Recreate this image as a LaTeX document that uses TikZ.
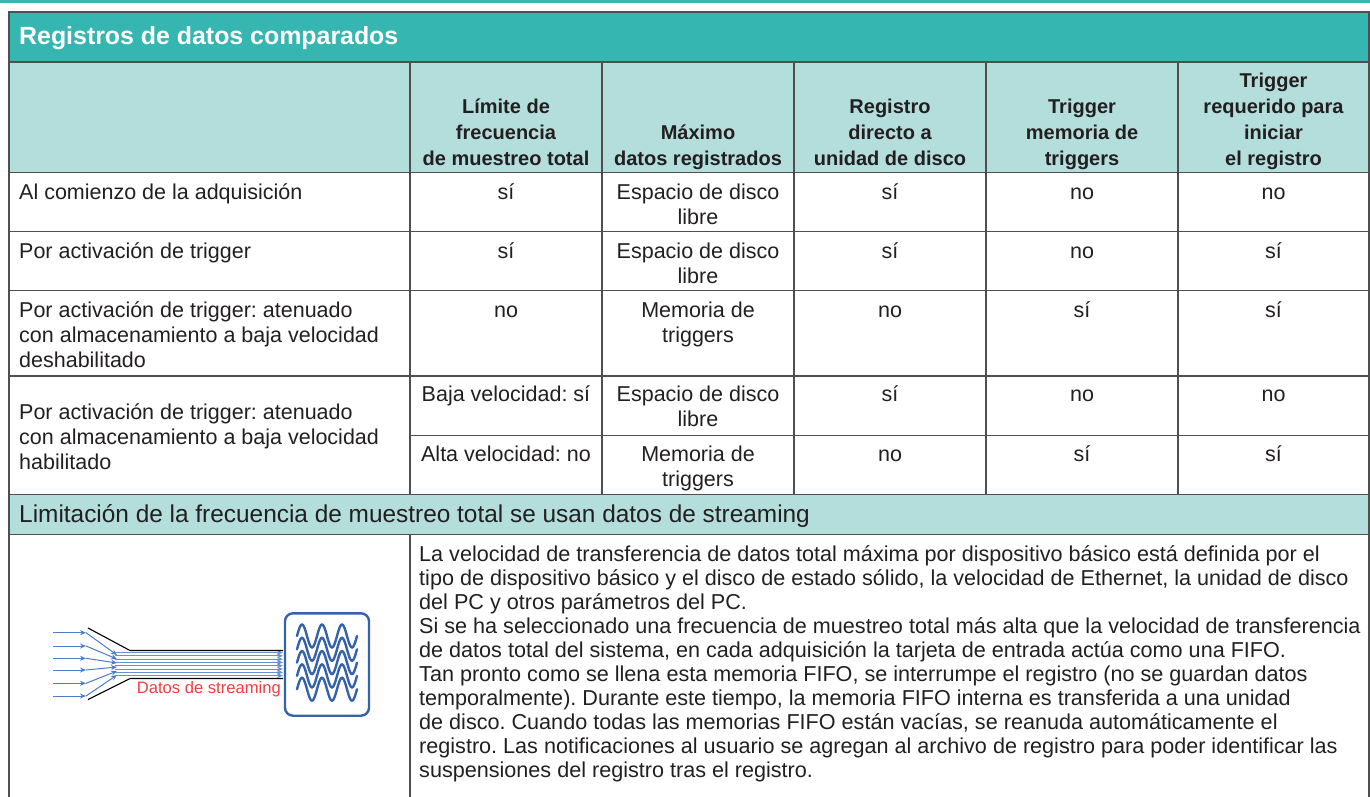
\documentclass[tikz,border=0pt]{standalone}
\usepackage{fontspec}
\setmainfont{Liberation Sans}
\usepackage{xcolor}
\usepackage{tikz}
\usetikzlibrary{arrows.meta}
\frenchspacing

\definecolor{tealdark}{HTML}{35B6B0}
\definecolor{teallight}{HTML}{B3DEDB}
\definecolor{rulegray}{HTML}{4F4F4F}
\definecolor{textgray}{HTML}{231F20}
\definecolor{iconblue}{HTML}{3663A8}
\definecolor{flowblue}{HTML}{4B7DCB}
\definecolor{streamred}{HTML}{EF3E42}

\begin{document}
\begin{tikzpicture}[x=1pt, y=-1pt,
  grid/.style={draw=rulegray, line width=1.3pt},
  hd/.style={anchor=base, inner sep=0pt, text=textgray, font=\bfseries\fontsize{20}{24}\selectfont},
  cell/.style={anchor=base, inner sep=0pt, text=textgray, font=\fontsize{21.5}{26}\selectfont},
  lcell/.style={cell, anchor=base west},
  flow/.style={flowblue, line width=1pt, -{Stealth[length=6pt,width=5pt]}}]
\useasboundingbox (0,0) rectangle (1370,796);

% bands and rules
\fill[tealdark] (0,0) rectangle (1370,2.5);
\filldraw[grid, fill=tealdark] (9,12) rectangle (1369,62);
\filldraw[grid, fill=teallight] (9,62) rectangle (1369,172.3);
\filldraw[grid, fill=teallight] (9,494.3) rectangle (1369,534.3);
\foreach \y in {231.7, 290.7, 376}
  \draw[grid] (9,\y) -- (1369,\y);
\draw[grid] (410,435.7) -- (1369,435.7);
\foreach \x in {410, 602, 794, 986, 1178}
  \draw[grid] (\x,62) -- (\x,494.3);
\draw[grid] (9,172.3) -- (9,494.3) (1369,172.3) -- (1369,494.3);
\draw[grid] (9,534.3) -- (9,800) (410,534.3) -- (410,800) (1369,534.3) -- (1369,800);

% title
\node[anchor=base west, inner sep=0pt, text=white, font=\bfseries\fontsize{24.9}{29}\selectfont] (ttl) at (19,44.5) {Registros de datos comparados};

% header
\node[hd] (h1a) at (506,113.5) {Límite de};
\node[hd] (h1b) at (506,139.3) {frecuencia};
\node[hd] (h1c) at (506,165) {de muestreo total};
\node[hd] (h2a) at (698,139.3) {Máximo};
\node[hd] (h2b) at (698,165) {datos registrados};
\node[hd] (h3a) at (890,113.5) {Registro};
\node[hd] (h3b) at (890,139.3) {directo a};
\node[hd] (h3c) at (890,165) {unidad de disco};
\node[hd] (h4a) at (1082,113.5) {Trigger};
\node[hd] (h4b) at (1082,139.3) {memoria de};
\node[hd] (h4c) at (1082,165) {triggers};
\node[hd] (h5a) at (1273.5,87.7) {Trigger};
\node[hd] (h5b) at (1273.5,113.5) {requerido para};
\node[hd] (h5c) at (1273.5,139.3) {iniciar};
\node[hd] (h5d) at (1273.5,165) {el registro};

% first column
\node[lcell] (l1) at (19,199) {Al comienzo de la adquisición};
\node[lcell] (l2) at (19,258) {Por activación de trigger};
\node[lcell] (l3a) at (19,317.7) {Por activación de trigger: atenuado};
\node[lcell] (l3b) at (19,342.7) {con almacenamiento a baja velocidad};
\node[lcell] (l3c) at (19,367.7) {deshabilitado};
\node[lcell] (l4a) at (19,419) {Por activación de trigger: atenuado};
\node[lcell] (l4b) at (19,444) {con almacenamiento a baja velocidad};
\node[lcell] (l4c) at (19,469) {habilitado};

% data cells
\foreach \y/\a/\c/\d/\e [count=\i] in {199/sí/sí/no/no, 258/sí/sí/no/sí,
    317.7/no/no/sí/sí, 401.7/Baja velocidad: sí/sí/no/no, 461.7/Alta velocidad: no/no/sí/sí} {
  \node[cell] (f\i) at (506,\y) {\a};
  \node[cell] (r\i) at (890,\y) {\c};
  \node[cell] (m\i) at (1082,\y) {\d};
  \node[cell] (s\i) at (1273.5,\y) {\e};
}
\foreach \y/\a/\b [count=\i] in {199/Espacio de disco/libre, 258/Espacio de disco/libre,
    317.7/Memoria de/triggers, 401.7/Espacio de disco/libre, 461.7/Memoria de/triggers} {
  \node[cell] (xa\i) at (698,\y) {\a};
  \node[cell] (xb\i) at (698,\y+25) {\b};
}

% lower band
\node[anchor=base west, inner sep=0pt, text=textgray, font=\fontsize{24.4}{28}\selectfont] (lim) at (19,522) {Limitación de la frecuencia de muestreo total se usan datos de streaming};

\foreach \txt [count=\i from 0] in {
  {La velocidad de transferencia de datos total máxima por dispositivo básico está definida por el},
  {tipo de dispositivo básico y el disco de estado sólido, la velocidad de Ethernet, la unidad de disco},
  {del PC y otros parámetros del PC.},
  {Si se ha seleccionado una frecuencia de muestreo total más alta que la velocidad de transferencia},
  {de datos total del sistema, en cada adquisición la tarjeta de entrada actúa como una FIFO.},
  {Tan pronto como se llena esta memoria FIFO, se interrumpe el registro (no se guardan datos},
  {temporalmente). Durante este tiempo, la memoria FIFO interna es transferida a una unidad},
  {de disco. Cuando todas las memorias FIFO están vacías, se reanuda automáticamente el},
  {registro. Las notificaciones al usuario se agregan al archivo de registro para poder identificar las},
  {suspensiones del registro tras el registro.}}
  \node[lcell, font=\fontsize{21.6}{24}\selectfont] (txt\i) at (419,561+24*\i) {\txt};

% streaming icon
\foreach \y [count=\i from 0] in {632.7, 646, 658.3, 670, 683.3, 696} {
  \draw[flow] (53,\y) -- (86,\y);
  \draw[flow] (86,\y) -- (117,655+4*\i);
}
\foreach \k in {0,...,7}
  \draw[flow, flowblue!85] (115,652.5+3.3*\k) -- (283,652.5+3.3*\k);
\draw[line width=1.1pt] (88,628) -- (130,650.5) -- (283,650.5);
\draw[line width=1.1pt] (88,699.5) -- (130,678.5) -- (283,678.5);
\draw[iconblue, line width=2.4pt, rounded corners=8pt] (285,613.3) rectangle (369,715.7);
\foreach \c in {636,649.3,662.6,675.9,689.2}
  \draw[iconblue, line width=2.4pt, line cap=round] plot[domain=0:60, samples=61, smooth] ({297+\x}, {\c-11.5*sin(18*\x)});
\node[anchor=base east, inner sep=0pt, text=streamred, font=\fontsize{16.6}{20}\selectfont] (dstr) at (281,693.3) {Datos de streaming};
\end{tikzpicture}
\end{document}
